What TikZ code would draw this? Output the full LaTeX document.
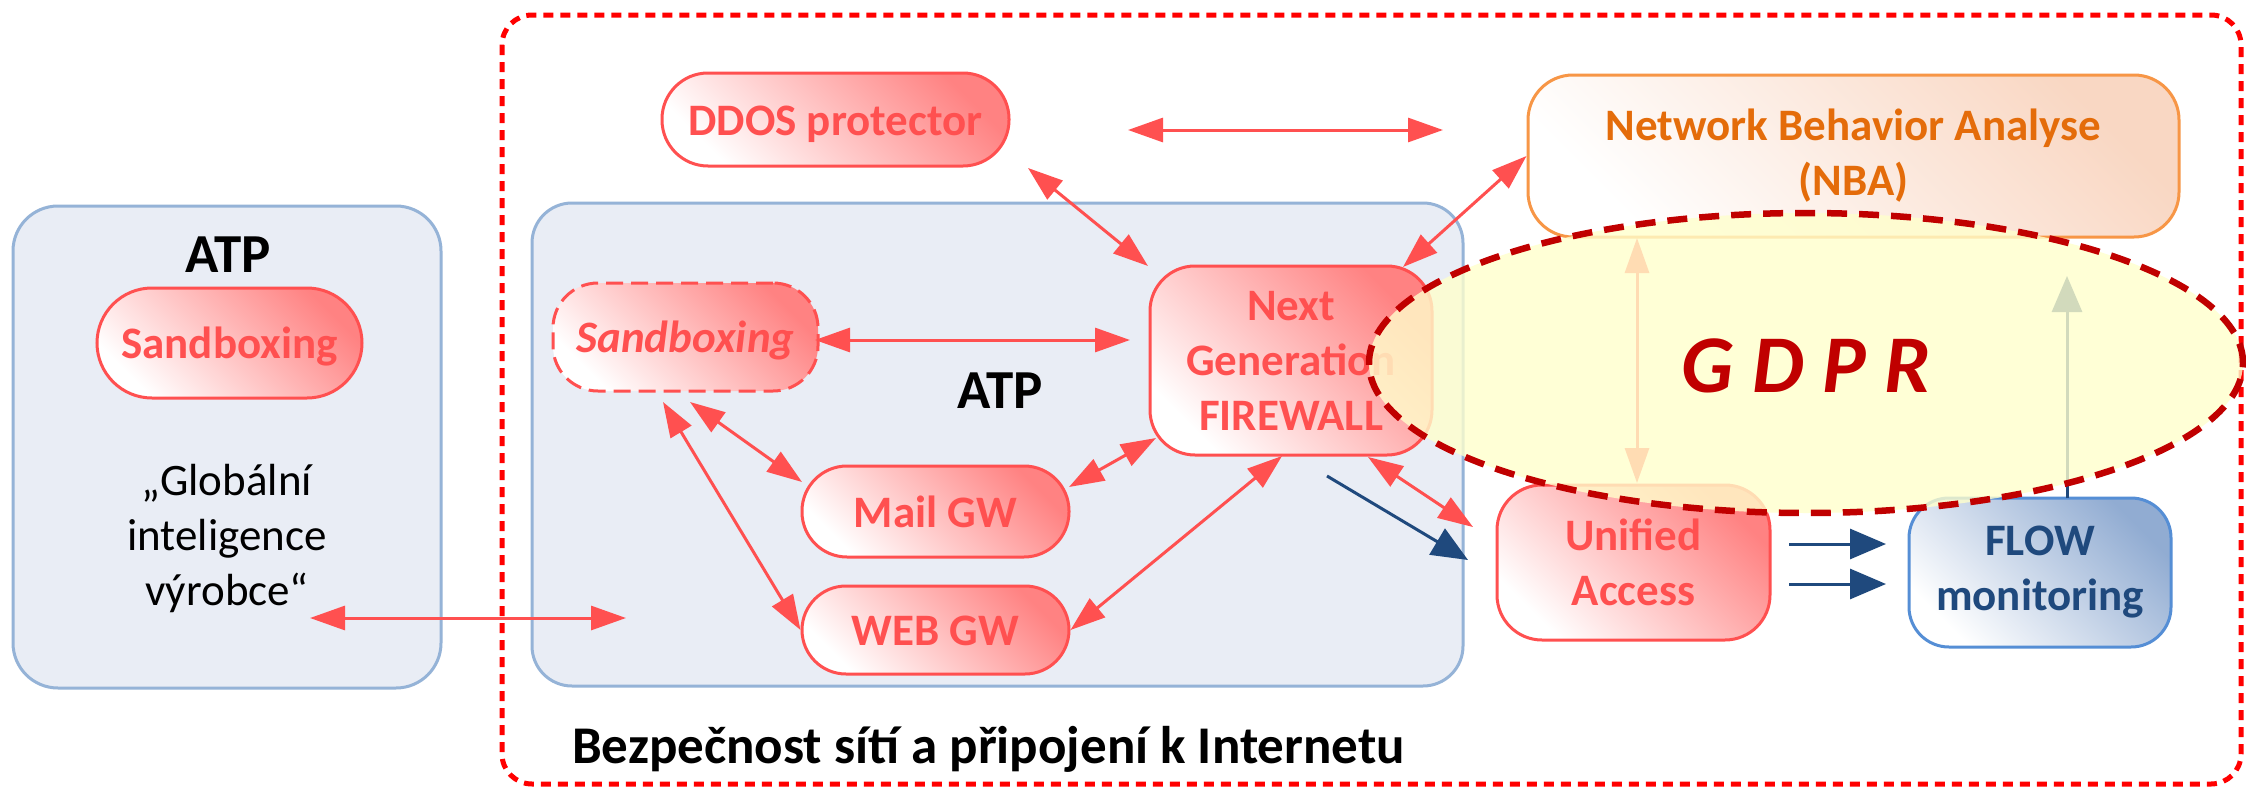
\documentclass[tikz,border=0pt]{standalone}
\usepackage{fontspec}
\setmainfont{Carlito}
\usetikzlibrary{arrows.meta,shapes.geometric}
\definecolor{boxred}{RGB}{255,80,80}
\definecolor{redtop}{RGB}{255,130,130}
\definecolor{atpfill}{RGB}{233,237,245}
\definecolor{atpdraw}{RGB}{149,179,215}
\definecolor{nbadraw}{RGB}{247,150,70}
\definecolor{nbatext}{RGB}{228,108,10}
\definecolor{nbatop}{RGB}{249,215,195}
\definecolor{flowdraw}{RGB}{85,142,213}
\definecolor{flowtext}{RGB}{31,73,125}
\definecolor{flowtop}{RGB}{145,172,210}
\definecolor{darkblue}{RGB}{31,73,125}
\definecolor{gdprred}{RGB}{192,0,0}
\definecolor{gdprfill}{RGB}{255,255,204}
\begin{document}
\begin{tikzpicture}[x=1pt,y=-1pt,
  txt/.style={font=\fontsize{45}{55}\selectfont\bfseries, inner sep=0pt, align=center},
  oneline/.style={text height=31pt, text depth=0pt},
  redbox/.style={txt, text=boxred, draw=boxred, line width=3pt, top color=redtop, bottom color=white, shading angle=-45},
  nbabox/.style={txt, text=nbatext, draw=nbadraw, line width=3pt, top color=nbatop, bottom color=white, shading angle=-45},
  flowbox/.style={txt, text=flowtext, draw=flowdraw, line width=3pt, top color=flowtop, bottom color=white, shading angle=-45},
  atpbox/.style={draw=atpdraw, fill=atpfill, line width=3pt, inner sep=0pt},
  redarrow/.style={draw=boxred, line width=3pt, {Triangle[length=35pt,width=24pt]}-{Triangle[length=35pt,width=24pt]}},
  bluearrow/.style={draw=darkblue, line width=3pt, -{Triangle[length=36pt,width=30pt]}},
  title/.style={font=\fontsize{55}{66}\selectfont\bfseries, inner sep=0pt, anchor=base}
]
\useasboundingbox (0,0) rectangle (2246,787);
\fill[white] (0,0) rectangle (2246,787);

% outer dotted frame
\draw[red, line width=5pt, dash pattern=on 10pt off 7pt, rounded corners=30pt] (502,15) rectangle (2241,784);

% ATP containers
\node[atpbox, rounded corners=45pt, minimum width=428, minimum height=482] (atpL) at (227,447) {};
\node[atpbox, rounded corners=40pt, minimum width=931, minimum height=483] (atpM) at (997.5,444.5) {};
\node[title] (atpLt) at (228,272) {ATP};
\node[title] (atpMt) at (1000,408) {ATP};

% left ATP content
\node[redbox, oneline, rounded corners=55pt, minimum width=265, minimum height=110] (sbL) at (229.5,343) {Sandboxing};
\node[font=\fontsize{45}{55}\selectfont, inner sep=0pt, align=center] (glob) at (227,538) {„Globální\\inteligence\\výrobce“};

% nodes
\node[redbox, oneline, rounded corners=46pt, minimum width=347, minimum height=93] (ddos) at (835.5,119.5) {DDOS protector};
\node[redbox, oneline, rounded corners=45pt, minimum width=265, minimum height=108, dash pattern=on 17pt off 8pt, font=\fontsize{45}{55}\selectfont\bfseries\itshape] (sbx) at (685.5,337) {Sandboxing};
\node[redbox, oneline, rounded corners=45pt, minimum width=267, minimum height=91] (mail) at (935.5,511.5) {Mail GW};
\node[redbox, oneline, rounded corners=44pt, minimum width=267, minimum height=88] (web) at (935.5,630) {WEB GW};
\node[redbox, rounded corners=45pt, minimum width=282, minimum height=189] (fw) at (1291,360.5) {Next\\Generation\\FIREWALL};
\node[nbabox, rounded corners=45pt, minimum width=651, minimum height=162] (nba) at (1853.5,156) {Network Behavior Analyse\\(NBA)};
\node[redbox, rounded corners=45pt, minimum width=273, minimum height=155] (un) at (1633.5,562.5) {Unified\\Access};
\node[flowbox, rounded corners=40pt, minimum width=262, minimum height=149] (flow) at (2040,572.5) {FLOW\\monitoring};

% free arrow ends
\coordinate (gl) at (310,618);
\coordinate (gr) at (626,618);
\coordinate (tl) at (1128,130);
\coordinate (tr) at (1443,130);
\coordinate (dd) at (1028,168);
\coordinate (fwnw) at (1148,266);
\coordinate (fwne) at (1403,267);
\coordinate (sbe) at (815,340);
\coordinate (fww) at (1130,340);
\coordinate (sbm) at (690,402);
\coordinate (mailw) at (802,482);
\coordinate (sbw) at (663,402);
\coordinate (maile) at (1069,487);
\coordinate (fwsw) at (1156,438);
\coordinate (fws) at (1282,456);
\coordinate (fwse) at (1368,457);
\coordinate (unnw) at (1473,527);
\coordinate (bs) at (1327,476);
\coordinate (be) at (1468,560);
\coordinate (u1) at (1789,544);
\coordinate (f1) at (1886,544);
\coordinate (u2) at (1789,584);
\coordinate (f2) at (1886,584);
\coordinate (nbs) at (1637,238);
\coordinate (unn) at (1637,483);
\coordinate (flowt) at (2067,498);
\coordinate (flowtip) at (2067,276);

% red connectors
\draw[redarrow] (gl) -- (gr);
\draw[redarrow] (tl) -- (tr);
\draw[redarrow] (dd) -- (fwnw);
\draw[redarrow] (fwne) -- (nba.west);
\draw[redarrow] (sbe) -- (fww);
\draw[redarrow] (sbm) -- (mailw);
\draw[redarrow] (sbw) -- (web.west);
\draw[redarrow] (maile) -- (fwsw);
\draw[redarrow] (web.east) -- (fws);
\draw[redarrow] (fwse) -- (unnw);
\draw[redarrow] (nbs) -- (unn);

% blue connectors
\draw[bluearrow] (bs) -- (be);
\draw[bluearrow] (u1) -- (f1);
\draw[bluearrow] (u2) -- (f2);
\draw[bluearrow] (flowt) -- (flowtip);

% GDPR overlay
\node[ellipse, draw=gdprred, line width=6.5pt, dash pattern=on 20pt off 12pt, fill=gdprfill, fill opacity=0.8, text opacity=1, minimum width=874, minimum height=300, inner sep=0pt, text=gdprred, font=\fontsize{82}{98}\selectfont\bfseries\itshape, text height=58pt, text depth=0pt] (gdpr) at (1806,363) {G D P R};

% caption
\node[font=\fontsize{53}{64}\selectfont\bfseries, inner sep=0pt, anchor=base west] (cap) at (572,763) {Bezpečnost sítí a připojení k Internetu};
\end{tikzpicture}
\end{document}
